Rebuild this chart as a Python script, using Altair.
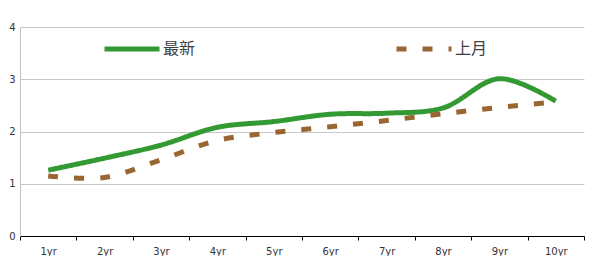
import altair as alt
import pandas as pd

categories = ["1yr", "2yr", "3yr", "4yr", "5yr", "6yr", "7yr", "8yr", "9yr", "10yr"]
latest = [1.26, 1.49, 1.74, 2.08, 2.19, 2.33, 2.35, 2.45, 3.01, 2.58]
last_month = [1.15, 1.12, 1.46, 1.83, 1.98, 2.09, 2.21, 2.34, 2.46, 2.57]
series_names = ["最新", "上月"]
colors = ["#339933", "#996633"]

rows = []
for c, v in zip(categories, latest):
    rows.append({"term": c, "value": v, "series": series_names[0]})
for c, v in zip(categories, last_month):
    rows.append({"term": c, "value": v, "series": series_names[1]})
df = pd.DataFrame(rows)

leg = alt.Legend(
    title=None,
    orient="none",
    legendX=82,
    legendY=-8,
    direction="horizontal",
    symbolType="stroke",
    symbolSize=3025,
    symbolStrokeWidth=5,
    labelFont="Noto Sans CJK SC",
    labelFontSize=16,
    labelColor="#404040",
    labelOffset=1,
    columnPadding=190,
    padding=0,
)

chart = alt.Chart(df).mark_line(strokeWidth=5, interpolate="catmull-rom", strokeCap="butt").encode(
    x=alt.X(
        "term:N",
        sort=categories,
        scale=alt.Scale(paddingInner=0, paddingOuter=0),
        axis=alt.Axis(
            title=None,
            labelAngle=0,
            labelFont="DejaVu Sans",
            labelFontSize=10,
            labelColor="#333333",
            labelPadding=6,
            tickSize=4,
            tickColor="#000000",
            tickBand="extent",
            domainColor="#000000",
            grid=False,
        ),
    ),
    y=alt.Y(
        "value:Q",
        scale=alt.Scale(domain=[0, 4], nice=False),
        axis=alt.Axis(
            title=None,
            values=[0, 1, 2, 3, 4],
            ticks=False,
            labelFont="DejaVu Sans",
            labelFontSize=10,
            labelColor="#333333",
            labelPadding=5,
            gridColor="#c8c8c8",
            domainColor="#c0c0c0",
        ),
    ),
    color=alt.Color("series:N", scale=alt.Scale(domain=series_names, range=colors), legend=leg),
    strokeDash=alt.StrokeDash("series:N", scale=alt.Scale(domain=series_names, range=[[1, 0], [10, 16]]), legend=leg),
).properties(
    width=564,
    height=209,
    autosize=alt.AutoSizeParams(type="none"),
    padding={"left": 12, "top": 19, "right": 10, "bottom": 20},
).configure_view(stroke=None)

chart.save("out.html", embed_options={"renderer": "svg", "actions": False})
